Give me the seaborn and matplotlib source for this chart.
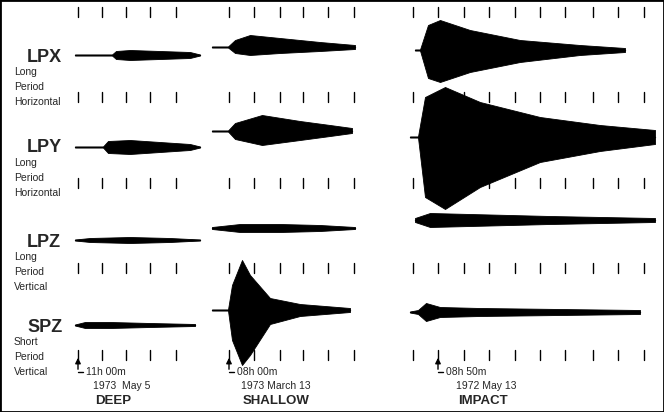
import numpy as np
import matplotlib
matplotlib.use('Agg')
import matplotlib.pyplot as plt
import seaborn as sns

sns.set_style('white')
plt.rcParams['font.family'] = ['Liberation Sans', 'DejaVu Sans']

# envelope knots per trace: time (px), upper amplitude, lower amplitude
# deep event
deep_lpx_t = [75, 112, 116, 130, 160, 190, 200]
deep_lpx_up = [0.5, 0.5, 4, 5, 4, 3, 0.5]
deep_lpx_lo = [0.5, 0.5, 4, 5, 4, 3, 0.5]
deep_lpy_t = [75, 103, 108, 130, 160, 190, 200]
deep_lpy_up = [0.5, 0.5, 6, 7, 5, 3, 0.5]
deep_lpy_lo = [0.5, 0.5, 6, 7, 5, 3, 0.5]
deep_lpz_t = [75, 90, 130, 170, 200]
deep_lpz_up = [0.5, 2, 3, 2, 0.5]
deep_lpz_lo = [0.5, 2, 3, 2, 0.5]
deep_spz_t = [75, 85, 110, 150, 195]
deep_spz_up = [0.5, 3, 3, 2, 1]
deep_spz_lo = [0.5, 3, 3, 2, 1]
# shallow event
sh_lpx_t = [212, 228, 235, 250, 280, 320, 355]
sh_lpx_up = [0.5, 0.5, 7, 12, 9, 5, 2]
sh_lpx_lo = [0.5, 0.5, 6, 8, 6, 4, 2]
sh_lpy_t = [212, 228, 235, 262, 300, 330, 352]
sh_lpy_up = [0.5, 0.5, 8, 16, 10, 6, 3]
sh_lpy_lo = [0.5, 0.5, 8, 14, 9, 5, 2]
sh_lpz_t = [212, 240, 280, 320, 355]
sh_lpz_up = [1, 4, 4, 3, 1]
sh_lpz_lo = [1, 4, 4, 3, 1]
sh_spz_t = [212, 228, 232, 242, 250, 270, 300, 350]
sh_spz_up = [0.5, 0.5, 25, 50, 35, 12, 6, 2]
sh_spz_lo = [0.5, 0.5, 30, 55, 45, 14, 6, 2]
# impact event
im_lpx_t = [415, 420, 428, 440, 470, 520, 580, 625]
im_lpx_up = [0.5, 0.5, 25, 30, 20, 10, 5, 2]
im_lpx_lo = [0.5, 0.5, 28, 32, 22, 12, 5, 2]
im_lpy_t = [410, 418, 425, 445, 480, 540, 600, 655]
im_lpy_up = [0.5, 0.5, 40, 50, 35, 20, 12, 7]
im_lpy_lo = [0.5, 0.5, 60, 72, 50, 25, 14, 7]
im_lpz_t = [415, 430, 470, 550, 655]
im_lpz_up = [2, 7, 6, 4, 2]
im_lpz_lo = [2, 7, 6, 4, 2]
im_spz_t = [410, 418, 426, 440, 480, 560, 640]
im_spz_up = [0.5, 2, 9, 5, 4, 3, 2]
im_spz_lo = [0.5, 2, 9, 5, 4, 3, 2]

traces = [
    (deep_lpx_t, deep_lpx_up, deep_lpx_lo, 55), (deep_lpy_t, deep_lpy_up, deep_lpy_lo, 147),
    (deep_lpz_t, deep_lpz_up, deep_lpz_lo, 240), (deep_spz_t, deep_spz_up, deep_spz_lo, 325),
    (sh_lpx_t, sh_lpx_up, sh_lpx_lo, 47), (sh_lpy_t, sh_lpy_up, sh_lpy_lo, 131),
    (sh_lpz_t, sh_lpz_up, sh_lpz_lo, 228), (sh_spz_t, sh_spz_up, sh_spz_lo, 310),
    (im_lpx_t, im_lpx_up, im_lpx_lo, 50), (im_lpy_t, im_lpy_up, im_lpy_lo, 137),
    (im_lpz_t, im_lpz_up, im_lpz_lo, 220), (im_spz_t, im_spz_up, im_spz_lo, 312),
]

# minute ticks for each column
deep_ticks = [78, 102, 126, 150, 176]
shallow_ticks = [229, 254, 280, 303, 328, 354]
impact_ticks = [413, 438, 464, 489, 515, 540, 565, 593, 618, 644]
tick_rows = [12, 97, 183, 268, 355]

channels = ['LPX', 'LPY', 'LPZ', 'SPZ']
channel_y = [57, 148, 242, 327]
descr = [['Long', 'Period', 'Horizontal'], ['Long', 'Period', 'Horizontal'],
         ['Long', 'Period', 'Vertical'], ['Short', 'Period', 'Vertical']]
start_times = ['11h 00m', '08h 00m', '08h 50m']
dates = ['1973  May 5', '1973 March 13', '1972 May 13']
events = ['DEEP', 'SHALLOW', 'IMPACT']

fig = plt.figure(figsize=(6.64, 4.12), dpi=100)
ax = fig.add_axes([0, 0, 1, 1])
ax.set_xlim(0, 664)
ax.set_ylim(412, 0)
ax.axis('off')
fig.patches.append(plt.Rectangle((0, 0), 1, 1, transform=fig.transFigure,
                                 fill=False, edgecolor='black', linewidth=2))

for t, up, lo, base in traces:
    t = np.array(t, dtype=float)
    ax.fill_between(t, base - np.array(up), base + np.array(lo), color='black', linewidth=0.6)
    ax.plot([t[0], t[-1]], [base, base], color='black', linewidth=1)

for ticks in [deep_ticks, shallow_ticks, impact_ticks]:
    for r in tick_rows:
        for x in ticks:
            ax.plot([x, x], [r - 5, r + 5], color='black', linewidth=1)

for name, y, d in zip(channels, channel_y, descr):
    ax.text(27, y, name, fontsize=13, fontweight='bold', va='center')
    for k, s in enumerate(d):
        ax.text(14, y + 15 + k * 15, s, fontsize=7.5, va='center')

arrows_x = [78, 229, 438]
for x, st, dt, ev, dx in zip(arrows_x, start_times, dates, events, [15, 12, 18]):
    ax.annotate('', xy=(x, 355), xytext=(x, 372),
                arrowprops=dict(arrowstyle='-|>', color='black', lw=1, mutation_scale=8))
    ax.plot([x, x + 5], [372, 372], color='black', linewidth=1)
    ax.text(x + 8, 372, st, fontsize=7.5, va='center')
    ax.text(x + dx, 386, dt, fontsize=7.5, va='center')
    ax.text(x + dx + 2, 401, ev, fontsize=9.5, fontweight='bold', va='center')

fig.savefig('out.png', dpi=100)
